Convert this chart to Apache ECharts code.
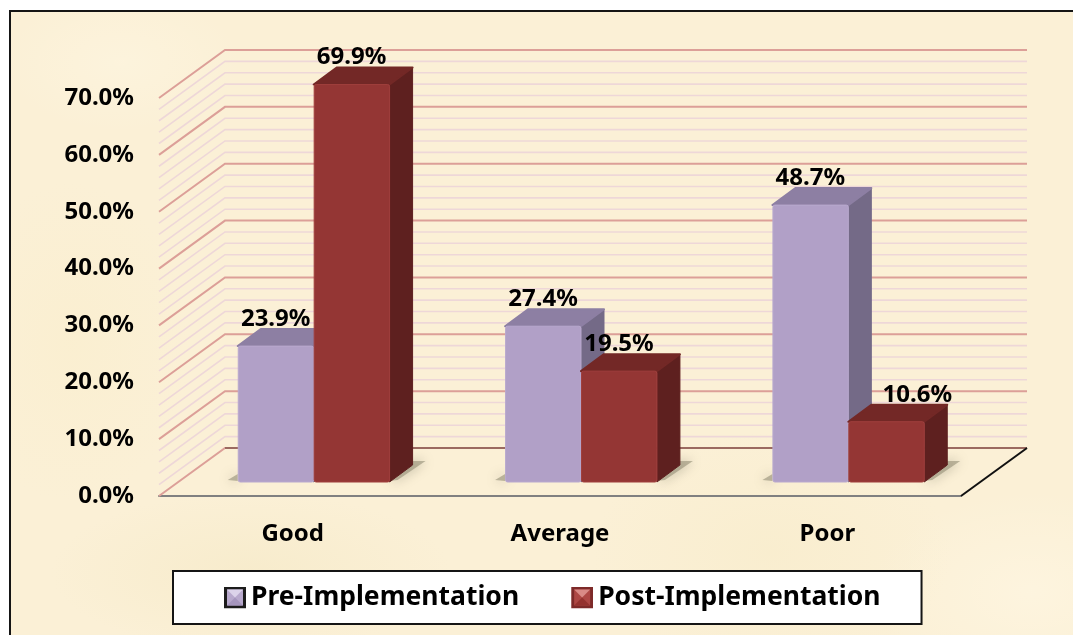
<!DOCTYPE html>
<html>
<head>
<meta charset="utf-8">
<style>
  html, body { margin: 0; padding: 0; background: #fff; }
  #frame {
    position: absolute; left: 0; top: 0; width: 1073px; height: 635px; overflow: hidden;
  }
  #paper {
    position: absolute; left: 9px; top: 10px; right: -4px; bottom: -4px;
    border-left: 2px solid #151515; border-top: 2px solid #151515;
    background:
      radial-gradient(ellipse 120px 70px at 110px 50px, rgba(255,248,230,.4), rgba(255,248,230,0)),
      radial-gradient(ellipse 200px 80px at 240px 560px, rgba(244,232,196,.55), rgba(244,232,196,0)),
      radial-gradient(ellipse 180px 120px at 760px 540px, rgba(247,235,200,.5), rgba(247,235,200,0)),
      radial-gradient(ellipse 120px 160px at 60px 330px, rgba(250,238,205,.6), rgba(250,238,205,0)),
      radial-gradient(ellipse 160px 100px at 1020px 580px, rgba(255,247,228,.6), rgba(255,247,228,0)),
      #fbf0d6;
  }
  #chart { position: absolute; left: 0; top: 0; width: 1073px; height: 635px; }
</style>
<script src="https://cdn.jsdelivr.net/npm/echarts@6/dist/echarts.min.js"></script>
</head>
<body>
<div id="frame">
  <div id="paper"></div>
  <div id="chart"></div>
</div>
<script>
const categories = ['Good', 'Average', 'Poor']
const preValues = [23.9, 27.4, 48.7]
const postValues = [69.9, 19.5, 10.6]
const wallTicks = [0, 2, 4, 6, 8, 10, 12, 14, 16, 18, 20, 22, 24, 26, 28, 30, 32, 34,
  36, 38, 40, 42, 44, 46, 48, 50, 52, 54, 56, 58, 60, 62, 64, 66, 68, 70]

const fontName = '"Noto Sans"'

// depth of the floor, from the front edge to the back wall
const floorDx = 66
const floorDy = -48
// bars stand a bit behind the front edge
const barDx = 21
const barDy = -14
const sideDx = 23
const sideDy = -17
const barShare = 0.284

const preColors = {front: '#b1a0c7', edge: '#b9a9ce', side: '#746a87', top: '#8d7fa3'}
const postColors = {front: '#943634', edge: '#a03f3d', side: '#5e201f', top: '#732826'}

// bevelled legend swatch, four triangles round a square
const swatch = (border, top, side, bottom) => 'image://data:image/svg+xml,' + encodeURIComponent(
  `<svg xmlns="http://www.w3.org/2000/svg" width="22" height="22">` +
  `<rect width="22" height="22" fill="${border}"/>` +
  `<rect x="3" y="3" width="16" height="16" fill="${side}"/>` +
  `<polygon points="3,3 19,3 11,11" fill="${top}"/>` +
  `<polygon points="3,19 11,11 19,19" fill="${bottom}"/></svg>`)

const renderWall = (params, api) => {
  const value = api.value(1)
  const box = params.coordSys
  const y = api.coord([0, value])[1]
  const left = box.x
  const right = box.x + box.width
  const major = value % 10 === 0
  const color = major ? '#dc9f98' : '#eed7d8'
  const children = [{
    type: 'polyline',
    shape: {points: [[left, y], [left + floorDx, y + floorDy], [right + floorDx, y + floorDy]]},
    style: {stroke: color, lineWidth: major ? 2 : 1.6, fill: null}
  }]
  if (value === 0) {
    children.push({
      type: 'line',
      shape: {x1: left + floorDx, y1: y + floorDy, x2: right + floorDx, y2: y + floorDy},
      style: {stroke: '#9b6a60', lineWidth: 2}
    })
    children.push({
      type: 'line',
      shape: {x1: right, y1: y, x2: right + floorDx, y2: y + floorDy},
      style: {stroke: '#111', lineWidth: 2}
    })
  }
  return {type: 'group', children}
}

const makeBarRenderer = (colors, isPost) => (params, api) => {
  const base = api.coord([api.value(0), 0])
  const tip = api.coord([api.value(0), api.value(1)])
  const w = api.size([1, 0])[0] * barShare
  const x0 = base[0] + barDx - (isPost ? 0 : w)
  const x1 = x0 + w
  const yb = base[1] + barDy
  const yt = tip[1] + barDy
  const shadowStyle = {fill: 'rgba(140,135,112,.55)', shadowBlur: 12, shadowColor: 'rgba(120,115,95,.9)'}
  const children = []
  if (isPost) {
    children.push({
      type: 'polygon',
      shape: {points: [[x1, yb - 1], [x1 + sideDx, yb - 21], [x1 + sideDx + 13, yb - 21], [x1 + 8, yb - 2]]},
      style: shadowStyle
    })
  } else {
    children.push({
      type: 'polygon',
      shape: {points: [[x0, yb - 8], [x0 - 10, yb - 2], [x0, yb - 1]]},
      style: shadowStyle
    })
  }
  children.push({
    type: 'polygon',
    shape: {points: [[x1, yt], [x1 + sideDx, yt + sideDy], [x1 + sideDx, yb + sideDy], [x1, yb]]},
    style: {fill: colors.side, stroke: colors.side, lineWidth: 1, lineJoin: 'round'}
  })
  children.push({
    type: 'polygon',
    shape: {points: [[x0, yt], [x0 + sideDx, yt + sideDy], [x1 + sideDx, yt + sideDy], [x1, yt]]},
    style: {fill: colors.top, stroke: colors.top, lineWidth: 2, lineJoin: 'round'}
  })
  children.push({
    type: 'rect',
    shape: {x: x0 + 0.5, y: yt, width: w - 0.5, height: yb - yt, r: 2},
    style: {fill: colors.front, stroke: colors.edge, lineWidth: 1}
  })
  return {type: 'group', children}
}

// the label for Poor / Post sits off to the right of its bar in the original
const makeLabelRenderer = (isPost) => (params, api) => {
  const base = api.coord([api.value(0), 0])
  const tip = api.coord([api.value(0), api.value(1)])
  const w = api.size([1, 0])[0] * barShare
  const cx = base[0] + barDx + (isPost ? w / 2 : -w / 2)
  const nudge = isPost && categories[api.value(0)] === 'Poor' ? 31 : 0
  return {
    type: 'text',
    style: {
      x: cx + nudge,
      y: tip[1] + barDy + sideDy - 10,
      text: api.value(1).toFixed(1) + '%',
      fill: '#000',
      font: `bold 24px ${fontName}`,
      align: 'center',
      verticalAlign: 'middle'
    }
  }
}

const pairs = (values) => values.map((v, i) => [i, v])

const option = {
  animation: false,
  backgroundColor: 'transparent',
  textStyle: {fontFamily: fontName},
  grid: {left: 159, top: 98, width: 802, height: 398},
  xAxis: {
    type: 'category',
    data: categories,
    axisTick: {show: false},
    axisLine: {lineStyle: {color: '#808080', width: 2}},
    axisLabel: {color: '#000', fontFamily: 'Noto Sans', fontWeight: 'bold', fontSize: 24, margin: 26}
  },
  yAxis: {
    type: 'value',
    min: 0,
    max: 70,
    interval: 10,
    splitLine: {show: false},
    axisLine: {show: false},
    axisTick: {show: false},
    axisLabel: {
      color: '#000', fontFamily: 'Noto Sans', fontWeight: 'bold', fontSize: 24, margin: 25,
      padding: [3, 0, 0, 0],
      formatter: v => v.toFixed(1) + '%'
    }
  },
  legend: {
    left: 173,
    top: 571,
    orient: 'horizontal',
    backgroundColor: '#fff',
    borderColor: '#151515',
    borderWidth: 2,
    borderRadius: 0,
    padding: [13, 41, 13, 51],
    itemWidth: 22,
    itemHeight: 22,
    itemGap: 52,
    textStyle: {color: '#000', fontFamily: 'Noto Sans', fontWeight: 'bold', fontSize: 26.5},
    data: [
      {
        name: 'Pre-Implementation',
        icon: swatch('#1c1c1c', '#dcd3ea', '#b8a9cd', '#a595bd')
      },
      {
        name: 'Post-Implementation',
        icon: swatch('#7d2a29', '#d98a86', '#ad4744', '#94322f')
      }
    ]
  },
  series: [
    {
      name: 'wall',
      type: 'custom',
      z: 1,
      silent: true,
      clip: false,
      data: wallTicks.map(v => [0, v]),
      encode: {x: 0, y: 1},
      renderItem: renderWall
    },
    {
      name: 'Pre-Implementation',
      type: 'custom',
      z: 2,
      clip: false,
      data: pairs(preValues),
      encode: {x: 0, y: 1},
      itemStyle: {color: preColors.front},
      renderItem: makeBarRenderer(preColors, false)
    },
    {
      name: 'Post-Implementation',
      type: 'custom',
      z: 3,
      clip: false,
      data: pairs(postValues),
      encode: {x: 0, y: 1},
      itemStyle: {color: postColors.front},
      renderItem: makeBarRenderer(postColors, true)
    },
    {
      name: 'preLabels',
      type: 'custom',
      z: 4,
      clip: false,
      data: pairs(preValues),
      encode: {x: 0, y: 1},
      renderItem: makeLabelRenderer(false)
    },
    {
      name: 'postLabels',
      type: 'custom',
      z: 4,
      clip: false,
      data: pairs(postValues),
      encode: {x: 0, y: 1},
      renderItem: makeLabelRenderer(true)
    }
  ]
}

const myChart = echarts.init(document.getElementById('chart'))
myChart.setOption(option)
</script>
</body>
</html>
